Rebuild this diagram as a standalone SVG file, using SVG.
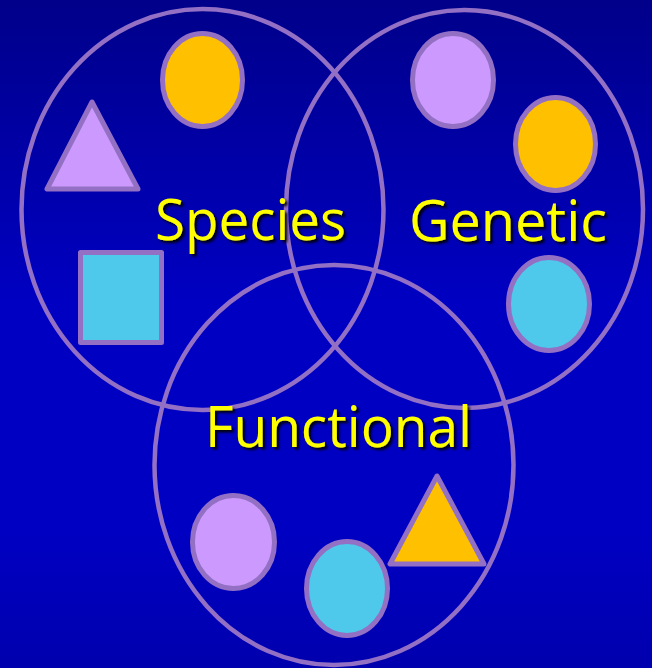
<svg xmlns="http://www.w3.org/2000/svg" width="652" height="668" viewBox="0 0 652 668">
  <defs>
    <linearGradient id="bg" x1="0" y1="0" x2="0" y2="1">
      <stop offset="0" stop-color="#00008A"/>
      <stop offset="0.45" stop-color="#0000C2"/>
      <stop offset="0.8" stop-color="#0000C2"/>
      <stop offset="1" stop-color="#0000AE"/>
    </linearGradient>
    <filter id="shadow" x="-10%" y="-20%" width="130%" height="150%">
      <feDropShadow dx="2.5" dy="2.5" stdDeviation="1" flood-color="#000000" flood-opacity="0.9"/>
    </filter>
    <style>
      .ring { fill: none; stroke: #9370C4; stroke-width: 4.5; }
      .shape { stroke: #9370C4; stroke-width: 5; stroke-linejoin: round; }
      .orange { fill: #FFC000; }
      .lilac { fill: #CC99FF; }
      .cyan { fill: #4FC9EB; }
      .label { font-family: "Open Sans", "Noto Sans", sans-serif; font-size: 56px; fill: #FFFF00; filter: url(#shadow); }
    </style>
  </defs>
  <rect x="0" y="0" width="652" height="668" fill="url(#bg)"/>

  <g id="connectors"></g>

  <g id="species">
    <ellipse class="ring" cx="202.5" cy="209.5" rx="181" ry="200.5"/>
    <ellipse class="shape orange" cx="202.5" cy="80" rx="40" ry="46.5"/>
    <polygon class="shape lilac" points="92,102 47,189 138,189"/>
    <rect class="shape cyan" x="80.5" y="252.5" width="81" height="90"/>
  </g>

  <g id="genetic">
    <ellipse class="ring" cx="464.5" cy="209" rx="178.5" ry="199"/>
    <ellipse class="shape lilac" cx="453" cy="80" rx="40.5" ry="46.5"/>
    <ellipse class="shape orange" cx="555.5" cy="144" rx="40" ry="46.5"/>
    <ellipse class="shape cyan" cx="549" cy="304" rx="40.5" ry="46.5"/>
  </g>

  <g id="functional">
    <ellipse class="ring" cx="334" cy="465" rx="179.5" ry="200"/>
    <ellipse class="shape lilac" cx="233.5" cy="542" rx="41" ry="46.5"/>
    <ellipse class="shape cyan" cx="347" cy="588.5" rx="40.5" ry="47"/>
    <polygon class="shape orange" points="437,476 390,564 484,564"/>
  </g>

  <g id="labels">
    <text class="label" x="155" y="240" textLength="191" lengthAdjust="spacingAndGlyphs">Species</text>
    <text class="label" x="409" y="241" textLength="198" lengthAdjust="spacingAndGlyphs">Genetic</text>
    <text class="label" x="205" y="447" textLength="267" lengthAdjust="spacingAndGlyphs">Functional</text>
  </g>
</svg>
